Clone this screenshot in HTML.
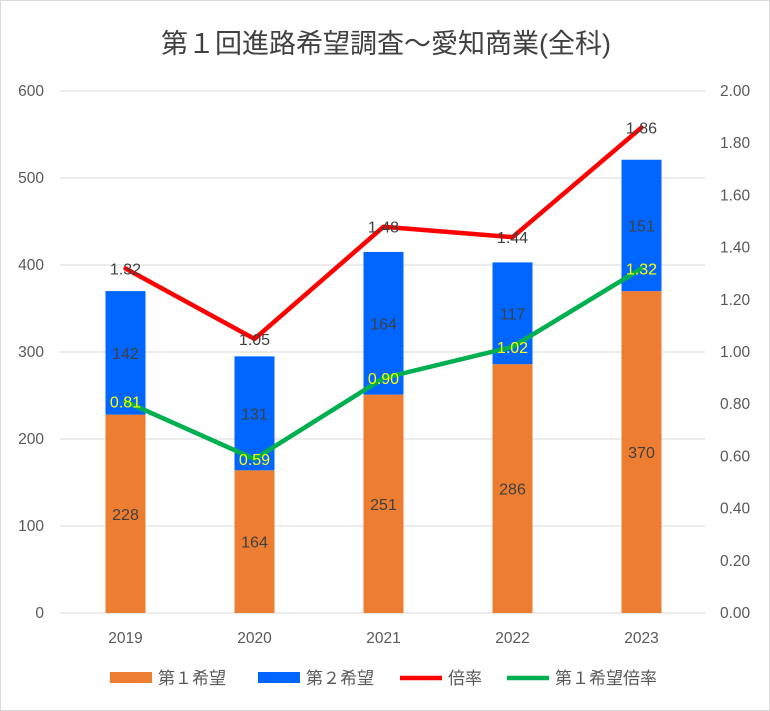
<!DOCTYPE html>
<html><head><meta charset="utf-8">
<style>
html,body{margin:0;padding:0;background:#fff;}
body{width:770px;height:711px;overflow:hidden;}
svg{display:block;font-family:"Liberation Sans","Noto Sans CJK JP",sans-serif;}
</style></head>
<body>
<svg id="chart" width="770" height="711">
<rect x="0.5" y="0.5" width="769" height="710" fill="#fff" stroke="#d9d9d9"/>
<text x="386" y="53" text-anchor="middle" font-size="27" fill="#404040" font-family="'Liberation Sans','Noto Sans CJK JP',sans-serif">第１回進路希望調査～愛知商業(全科)</text>
<g id="grid"></g><g id="bars"></g><g id="lines"></g><g id="labels"></g><g id="axes"></g>
<g id="legend"></g>
</svg>
<script>
const categories=["2019","2020","2021","2022","2023"];
const first=[228,164,251,286,370];
const second=[142,131,164,117,151];
const ratio=[1.32,1.05,1.48,1.44,1.86];
const firstRatio=[0.81,0.59,0.90,1.02,1.32];
const leftTicks=[0,100,200,300,400,500,600];
const rightTicks=[0,0.2,0.4,0.6,0.8,1.0,1.2,1.4,1.6,1.8,2.0];

const NS="http://www.w3.org/2000/svg";
const x0=60,x1=705,yBase=613,yTop=91;
const yL=v=>yBase-(v/600)*(yBase-yTop);
const yR=v=>yBase-(v/2)*(yBase-yTop);
const band=(x1-x0)/categories.length;
const xC=i=>x0+band*(i+0.5)+1;
const barW=40;
function mk(tag,attrs,parent,text){const e=document.createElementNS(NS,tag);for(const k in attrs)e.setAttribute(k,attrs[k]);if(text!==undefined)e.textContent=text;document.getElementById(parent).appendChild(e);return e;}

leftTicks.forEach(t=>{
  const l=mk("line",{x1:x0,x2:x1,y1:yL(t),y2:yL(t),stroke:"#d9d9d9","stroke-width":1},"grid");
  
  
  const tx=mk("text",{x:44,y:yL(t)+5,"text-anchor":"end","font-size":15.5,fill:"#595959"},"axes",String(t));
  
  
});
rightTicks.forEach(t=>{
  const tx=mk("text",{x:720,y:yR(t)+5,"text-anchor":"start","font-size":15.5,fill:"#595959"},"axes",t.toFixed(2));
  
  
});
categories.forEach((c,i)=>{
  const tx=mk("text",{x:xC(i),y:643,"text-anchor":"middle","font-size":15.5,fill:"#595959"},"axes",c);
  
  
  const b1=mk("rect",{x:xC(i)-barW/2,y:yL(first[i]),width:barW,height:yBase-yL(first[i]),fill:"#ed7d31"},"bars");
  
  
  const top=first[i]+second[i];
  const b2=mk("rect",{x:xC(i)-barW/2,y:yL(top),width:barW,height:yL(first[i])-yL(top),fill:"#0066ff"},"bars");
  
  
  const l1=mk("text",{x:xC(i),y:(yL(first[i])+yBase)/2+6,"text-anchor":"middle","font-size":16,fill:"#404040"},"labels",String(first[i]));
  
  
  const l2=mk("text",{x:xC(i),y:(yL(first[i])+yL(top))/2+6,"text-anchor":"middle","font-size":16,fill:"#404040"},"labels",String(second[i]));
  
  
});
const pts=a=>a.map((v,i)=>xC(i)+","+yR(v)).join(" ");
const rl=mk("polyline",{points:pts(ratio),fill:"none",stroke:"#ff0000","stroke-width":4.5,"stroke-linejoin":"round","stroke-linecap":"round"},"lines");


const gl=mk("polyline",{points:pts(firstRatio),fill:"none",stroke:"#00b050","stroke-width":4.5,"stroke-linejoin":"round","stroke-linecap":"round"},"lines");


ratio.forEach((v,i)=>{
  const t=mk("text",{x:xC(i),y:yR(v)+6,"text-anchor":"middle","font-size":16,fill:"#404040"},"labels",v.toFixed(2));
  
  
});
firstRatio.forEach((v,i)=>{
  const t=mk("text",{x:xC(i),y:yR(v)+6,"text-anchor":"middle","font-size":16,fill:"#ffff00"},"labels",v.toFixed(2));
  
  
});
const legendItems=[["第１希望","#ed7d31","rect",110],["第２希望","#0066ff","rect",258],["倍率","#ff0000","line",400],["第１希望倍率","#00b050","line",507]];
legendItems.forEach(([name,col,type,x])=>{
  let m;
  if(type==="rect"){m=mk("rect",{x:x,y:672,width:42,height:11,fill:col},"legend");}
  else{m=mk("line",{x1:x,x2:x+42,y1:678,y2:678,stroke:col,"stroke-width":4.5},"legend");}
  
  
  const t=mk("text",{x:x+48,y:684,"font-size":17,fill:"#595959"},"legend",name);
  
  
});
</script>
</body></html>
